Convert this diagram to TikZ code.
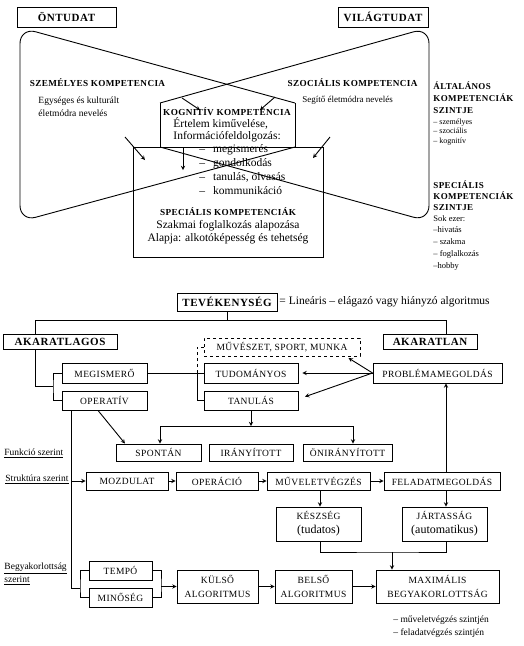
\documentclass[tikz,border=0pt]{standalone}
\usepackage{fontspec}
\setmainfont{Liberation Serif}
\newfontfamily\capsfont[LetterSpace=4]{Liberation Serif}
\newfontfamily\headfont[LetterSpace=5]{Liberation Serif}
\begin{document}
\begin{tikzpicture}[x=1pt,y=-1pt,>=stealth,line width=0.9pt,
        box/.style={draw,inner sep=0pt,align=center,font=\capsfont\fontsize{9.5}{14}\selectfont},
        headbox/.style={draw,inner sep=0pt,font=\headfont\bfseries\fontsize{11}{13}\selectfont},
        sz/.style 2 args={minimum width=#1pt,minimum height=#2pt},
        capslbl/.style={inner sep=0pt,align=left,font=\capsfont\bfseries\fontsize{9.2}{11.5}\selectfont},
        note/.style={inner sep=0pt,align=left,font=\fontsize{9.5}{13}\selectfont}]
        \useasboundingbox (0,0) rectangle (523,646);
        %
        % ontudat - vilagtudat
        \node[headbox,sz={99}{20}] (ontud) at (66.5,17) {ÖNTUDAT};
        \node[headbox,sz={90}{20}] (vilag) at (383,17) {VILÁGTUDAT};
        \draw[rounded corners=16pt] (295,103) -- (20,27.5) -- (20,221.5) -- (295,147);
        \draw (295,103) -- (295,147);
        \draw[rounded corners=16pt] (160,103) -- (429,27.5) -- (429,221.5) -- (160,147);
        \draw (160,103) -- (160,147);
        \draw (133,147) rectangle (323,257);
        %
        \node[capslbl] (szem) at (97.5,83) {SZEMÉLYES KOMPETENCIA};
        \node[capslbl] (szoc) at (352.5,83) {SZOCIÁLIS KOMPETENCIA};
        \node[note,anchor=west] (egys) at (38,106.5) {Egységes és kulturált\\életmódra nevelés};
        \node[note,anchor=west,font=\fontsize{9}{13}\selectfont] (segit) at (302,100) {Segítő életmódra nevelés};
        %
        \node[capslbl] (kog) at (227,112) {KOGNITÍV KOMPETENCIA};
        \node[inner sep=0pt,align=left,anchor=west,font=\fontsize{11.5}{12}\selectfont] (kogtxt) at (173,129.5) {Értelem kiművelése,\\Információfeldolgozás:};
        \node[inner sep=0pt,align=left,anchor=west,font=\fontsize{11.5}{14}\selectfont] (koglist) at (199,170) {–\hspace{8pt}megismerés\\–\hspace{8pt}gondolkodás\\–\hspace{8pt}tanulás, olvasás\\–\hspace{8pt}kommunikáció};
        \node[capslbl] (spec) at (228,212) {SPECIÁLIS KOMPETENCIÁK};
        \node[inner sep=0pt,align=center,font=\fontsize{11.5}{13}\selectfont] (spectxt) at (228,232) {Szakmai foglalkozás alapozása\\Alapja: alkotóképesség és tehetség};
        %
        \coordinate (a1) at (182,98); \coordinate (a1e) at (200,110);
        \coordinate (a2) at (275,97); \coordinate (a2e) at (260,110);
        \coordinate (a3) at (125,137); \coordinate (a3e) at (145,160);
        \coordinate (a4) at (330,137); \coordinate (a4e) at (313,158);
        \coordinate (a5) at (183,148); \coordinate (a5e) at (183,170);
        \draw[->] (a1) -- (a1e);
        \draw[->] (a2) -- (a2e);
        \draw[->] (a3) -- (a3e);
        \draw[->] (a4) -- (a4e);
        \draw[->] (a5) -- (a5e);
        %
        \node[capslbl,anchor=west,font=\capsfont\bfseries\fontsize{9}{12}\selectfont] (alt) at (433,97.5) {ÁLTALÁNOS\\KOMPETENCIÁK\\SZINTJE};
        \node[note,anchor=west,font=\fontsize{8}{9.5}\selectfont] (altlist) at (433,132) {– személyes\\– szociális\\– kognitív};
        \node[capslbl,anchor=west,font=\capsfont\bfseries\fontsize{9}{11}\selectfont] (spc) at (433,195.5) {SPECIÁLIS\\KOMPETENCIÁK\\SZINTJE};
        \node[note,anchor=west,font=\fontsize{8.5}{11.75}\selectfont] (spclist) at (433,242.5) {Sok ezer:\\–hivatás\\– szakma\\– foglalkozás\\–hobby};
        %
        % tevekenyseg
        \node[headbox,sz={100}{18}] (tev) at (227,302) {TEVÉKENYSÉG};
        \node[inner sep=0pt,anchor=west,font=\fontsize{11.5}{12}\selectfont] (tevtxt) at (279,302) {= Lineáris – elágazó vagy hiányzó algoritmus};
        \node[headbox,sz={114}{15}] (akl) at (60,341.5) {AKARATLAGOS};
        \node[headbox,sz={94}{15}] (akn) at (430,341.5) {AKARATLAN};
        \draw (tev.south) -- (tev.south |- 0,320);
        \draw (akl.north -| 35,0) -- (35,320) -- (446,320) -- (akn.north -| 446,0);
        %
        \node[box,sz={85}{20}] (megis) at (104.5,373) {MEGISMERŐ};
        \node[box,sz={85}{19}] (opera) at (104.5,400.5) {OPERATÍV};
        \node[box,sz={94}{20}] (tudom) at (251,373) {TUDOMÁNYOS};
        \node[box,sz={94}{19}] (tanul) at (251,400.5) {TANULÁS};
        \node[box,dashed,sz={156}{18}] (muv) at (282,347) {MŰVÉSZET, SPORT, MUNKA};
        \node[box,sz={129}{20}] (probl) at (437.5,373) {PROBLÉMAMEGOLDÁS};
        \draw (akl.south -| 35,0) -- (35,386) -- (53,386);
        \draw (megis.west) -| (53,386) |- (opera.west);
        \draw (megis.east) -- (tudom.west);
        \draw (tudom.west -| 197,0) |- (tanul.west);
        \draw[dashed] (tudom.west -| 197,0) |- (muv.west);
        \draw[->,shorten >=4pt] (probl.west) -- (tudom.east);
        \draw[->,shorten >=7pt] (probl.west) -- (tanul.east |- 0,399);
        \draw[->,shorten >=3pt] (probl.west) -- (muv.south east -| 346,0);
        %
        % funkcio szerint
        \node[note,anchor=west] (funk) at (4,453) {\underline{Funkció szerint}};
        \node[box,sz={85}{17}] (spont) at (158.5,452.5) {SPONTÁN};
        \node[box,sz={84}{17}] (irany) at (251,452.5) {IRÁNYÍTOTT};
        \node[box,sz={89}{17}] (onir) at (347.5,452.5) {ÖNIRÁNYÍTOTT};
        \coordinate (split) at (251,426);
        \draw[->] (tanul.south) -- (split);
        \draw[<->] (spont.north -| 160,0) -- (160,426) -- (353,426) -- (onir.north -| 353,0);
        \draw[->] (opera.south -| 98,0) -- (spont.north -| 125,0);
        %
        % struktura szerint
        \node[note,anchor=west] (strukt) at (5,479) {\underline{Struktúra szerint}};
        \node[box,sz={82}{18}] (mozd) at (127,481) {MOZDULAT};
        \node[box,sz={82}{18}] (oper) at (217,481) {OPERÁCIÓ};
        \node[box,sz={103}{18}] (muvel) at (318.5,481) {MŰVELETVÉGZÉS};
        \node[box,sz={116}{18}] (feld) at (442,481) {FELADATMEGOLDÁS};
        \draw (opera.south -| 71,0) -- (71,588) -- (80,588);
        \draw[->] (mozd.west -| 71,0) -- (mozd.west);
        \draw[->] (mozd) -- (oper);
        \draw[->] (oper) -- (muvel);
        \draw[->] (muvel) -- (feld);
        \draw[->] (feld.north -| 446,0) -- (probl.south -| 446,0);
        %
        \node[box,sz={85}{34}] (kesz) at (318.5,524) {KÉSZSÉG\\{\rmfamily\fontsize{12}{13}\selectfont(tudatos)}};
        \node[box,sz={85}{34}] (jart) at (444.5,524) {JÁRTASSÁG\\{\rmfamily\fontsize{12}{13}\selectfont(automatikus)}};
        \draw[->] (muvel.south -| 320,0) -- (kesz.north -| 320,0);
        \draw[->] (feld.south -| 446,0) -- (jart.north -| 446,0);
        \coordinate (join) at (392,552);
        \draw (kesz.south -| 320,0) |- (join) -| (jart.south -| 446,0);
        %
        % begyakorlottsag szerint
        \node[note,anchor=west] (begy) at (4,574) {\underline{Begyakorlottság}\\\underline{szerint}};
        \node[box,sz={63}{19}] (tempo) at (120.5,570.5) {TEMPÓ};
        \node[box,sz={63}{19}] (minos) at (120.5,597.5) {MINŐSÉG};
        \node[box,sz={81}{33}] (kuls) at (217.5,586.5) {KÜLSŐ\\ALGORITMUS};
        \node[box,sz={77}{33}] (bels) at (313.5,586.5) {BELSŐ\\ALGORITMUS};
        \node[box,sz={123}{33}] (maxb) at (437.5,586.5) {MAXIMÁLIS\\BEGYAKORLOTTSÁG};
        \draw (tempo.west) -| (80,588) |- (minos.west);
        \draw (tempo.east) -| (161,586.5) |- (minos.east);
        \draw[->] (kuls.west -| 161,0) -- (kuls.west);
        \draw[->] (kuls) -- (bels);
        \draw[->] (bels) -- (maxb);
        \draw[->] (join) -- (maxb.north -| 392,0);
        \node[note,anchor=west] (szint) at (393,626.5) {– műveletvégzés szintjén\\– feladatvégzés szintjén};
\end{tikzpicture}
\end{document}
